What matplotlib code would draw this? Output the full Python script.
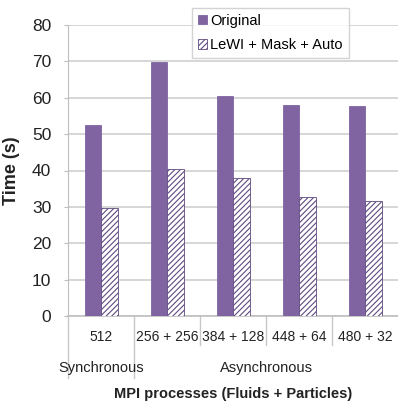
import numpy as np
import matplotlib.pyplot as plt
from matplotlib.transforms import blended_transform_factory

plt.rcParams['font.family'] = ['Liberation Sans', 'DejaVu Sans']
plt.rcParams['hatch.linewidth'] = 0.8

categories = ['512', '256 + 256', '384 + 128', '448 + 64', '480 + 32']
original = [52.5, 69.7, 60.6, 58.0, 57.7]
lewi = [29.7, 40.5, 38.0, 32.6, 31.7]
groups = [('Synchronous', 0, 1), ('Asynchronous', 1, 5)]

purple = '#8064A2'
edge = '#5F4A80'

fig = plt.figure(figsize=(3.98, 4.04), dpi=100)
ax = fig.add_axes([68 / 398, 88 / 404, 330 / 398, 291 / 404])

x = np.arange(len(categories))
w = 0.25
ax.bar(x - w / 2, original, w, color=purple, edgecolor=purple, linewidth=0.6,
       label='Original', zorder=3)
ax.bar(x + w / 2, lewi, w, color='white', edgecolor=edge, hatch='//////',
       linewidth=0.6, label='LeWI + Mask + Auto', zorder=3)

ax.set_xlim(-0.5, len(categories) - 0.5)
ax.set_ylim(0, 80)
ax.set_yticks(range(0, 81, 10))
ax.yaxis.grid(True, color='#cfcfcf', linewidth=1.2, zorder=0)
ax.tick_params(axis='y', labelsize=12.5, length=3, color='#bfbfbf', pad=9,
               labelcolor='#222222')
ax.set_xticks([])
for s in ['top', 'right']:
    ax.spines[s].set_visible(False)
ax.spines['left'].set_color('#bfbfbf')
ax.spines['bottom'].set_color('#bfbfbf')
ax.spines['bottom'].set_linewidth(1.2)

trans = blended_transform_factory(ax.transData, ax.transAxes)
px = 1 / 291
# category labels and separators
for i, c in enumerate(categories):
    ax.text(i, -21 * px, c, transform=trans, ha='center', va='center',
            fontsize=10, color='#222222')
for b in range(1, len(categories)):
    lo = -62 * px if b == 1 else -29 * px
    ax.plot([b - 0.5, b - 0.5], [0, lo], transform=trans, color='#c8c8c8',
            lw=1, clip_on=False)
ax.plot([-0.5, -0.5], [0, -62 * px], transform=trans, color='#c8c8c8',
        lw=1, clip_on=False)
for name, a, b in groups:
    ax.text((a + b - 1) / 2, -52 * px, name, transform=trans, ha='center',
            va='center', fontsize=10.5, color='#222222')

ax.set_ylabel('Time (s)', fontsize=13, fontweight='bold', color='#222222')
ax.yaxis.set_label_coords(-48 / 330, 0.5)
ax.text(0.5, -78 * px, 'MPI processes (Fluids + Particles)', transform=ax.transAxes,
        ha='center', va='center', fontsize=10.5, fontweight='bold', color='#222222')

leg = ax.legend(loc='upper left', bbox_to_anchor=((192 - 68) / 330, 1 + 17 * px),
                fontsize=10.5, frameon=True, fancybox=False, edgecolor='#c8c8c8',
                handlelength=0.6, handleheight=0.6, handletextpad=0.25,
                borderpad=0.4, labelspacing=0.7, borderaxespad=0)
leg.get_frame().set_linewidth(1)

fig.savefig('out.png', dpi=100)
